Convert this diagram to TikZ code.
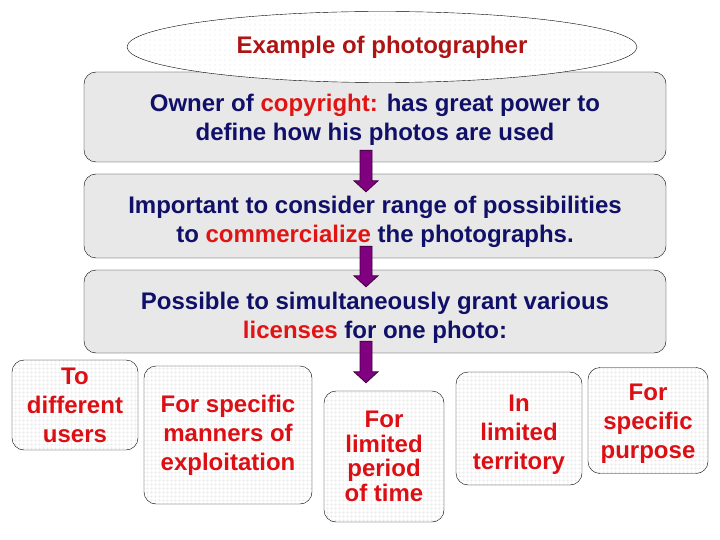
\documentclass[tikz,border=0pt]{standalone}
\usepackage{fontspec}
\setmainfont{Liberation Sans}
\usetikzlibrary{shapes.geometric,patterns.meta,calc}

\definecolor{navy}{RGB}{16,16,104}
\definecolor{hired}{RGB}{225,20,20}
\definecolor{titlered}{RGB}{175,20,20}
\definecolor{optred}{RGB}{220,15,20}
\definecolor{boxgray}{RGB}{232,232,232}
\definecolor{arrowpurple}{RGB}{128,0,128}
\definecolor{arrowedge}{RGB}{60,0,60}

\tikzset{
  title/.style={draw, ellipse, minimum width=510pt, minimum height=71pt, inner sep=0pt,
    preaction={fill=white}, pattern={Dots[radius=0.4pt,distance=5pt]}, pattern color=gray!60,
    text=titlered, font=\bfseries\fontsize{24}{29}\selectfont},
  stepbox/.style={draw, rounded corners=12pt, fill=boxgray, minimum width=582pt,
    inner sep=0pt, align=center, text=navy, font=\bfseries\fontsize{24}{29}\selectfont},
  option/.style={draw, rounded corners=12pt, inner sep=0pt, align=center,
    preaction={fill=white}, pattern={Hatch[distance=4pt,line width=0.3pt]}, pattern color=gray!25,
    text=optred, font=\bfseries\fontsize{24}{29}\selectfont},
  flow/.style={draw=arrowedge, fill=arrowpurple, line width=0.8pt, line join=miter}
}

% block arrow going down: #1 top of shaft, #2 height of tip
\newcommand\purplearrow[2]{%
  \path #1 coordinate (arrtop) #2 coordinate (arrend);
  \path (arrtop |- arrend) coordinate (arrtip);
  \draw[flow] ($(arrtop)+(-6,0)$) -- ($(arrtip)+(-6,-11)$) -- ($(arrtip)+(-12,-11)$) --
    (arrtip) -- ($(arrtip)+(12,-11)$) -- ($(arrtip)+(6,-11)$) -- ($(arrtop)+(6,0)$) -- cycle;
}

\begin{document}
\begin{tikzpicture}[x=1pt,y=-1pt]
\useasboundingbox (0,0) rectangle (720,540);

% the three steps
\node [stepbox, minimum height=90pt] (owner) at (375,117)
  {\rule{0pt}{22.5pt}Owner of \textcolor{hired}{copyright:} has great power to\\define how his photos are used};
\node [stepbox, minimum height=84pt] (consider) at (375,216)
  {\rule{0pt}{29.5pt}Important to consider range of possibilities\\to \textcolor{hired}{commercialize} the photographs.};
\node [stepbox, minimum height=83pt] (grant) at (375,311.5)
  {\rule{0pt}{29.5pt}Possible to simultaneously grant various\\\textcolor{hired}{licenses} for one photo:};

\node [title] (example) at (382,47) {Example of photographer};

% kinds of licenses
\node [option, minimum width=126pt, minimum height=90pt] (users) at (75,405)
  {To\\different\\users};
\node [option, minimum width=168pt, minimum height=138pt] (manners) at (228,435)
  {For specific\\manners of\\exploitation};
\node [option, minimum width=120pt, minimum height=131pt,
  font=\bfseries\fontsize{24}{24.5}\selectfont] (period) at (384,456.5)
  {For\\limited\\period\\of time};
\node [option, minimum width=126pt, minimum height=113pt] (territory) at (519,428.5)
  {\rule{0pt}{28pt}In\\limited\\territory};
\node [option, minimum width=120pt, minimum height=106pt] (purpose) at (648,420.5)
  {\rule{0pt}{23pt}For\\specific\\purpose};

% arrows
\purplearrow{([xshift=-9pt,yshift=12pt]owner.south)}{([yshift=-18pt]consider.north)}
\purplearrow{([xshift=-9pt,yshift=12pt]consider.south)}{([yshift=-17pt]grant.north)}
\purplearrow{([xshift=-9pt,yshift=12pt]grant.south)}{([yshift=8pt]period.north)}
\end{tikzpicture}
\end{document}
